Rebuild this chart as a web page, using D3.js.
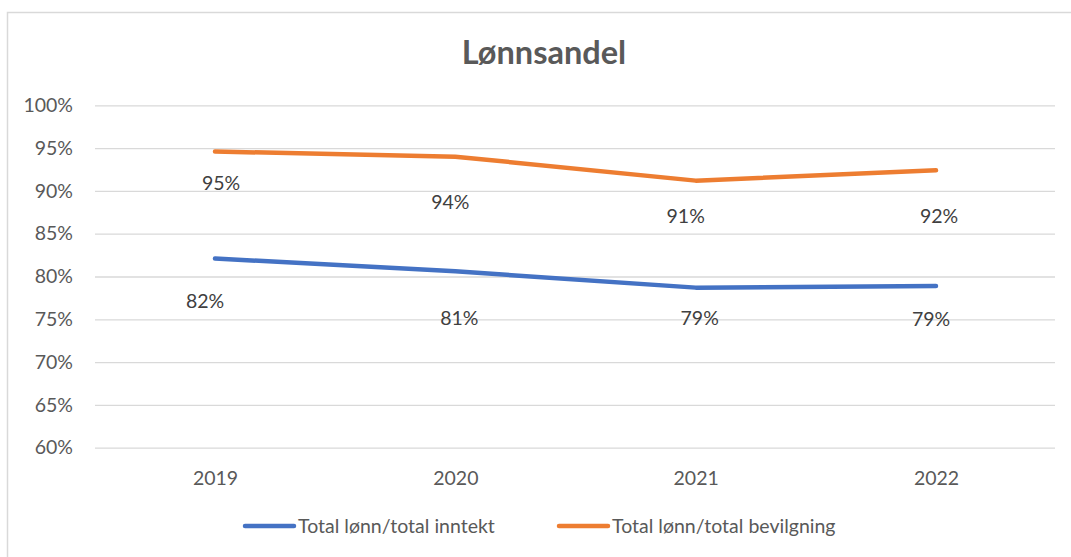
<!DOCTYPE html>
<html>
<head>
<meta charset="utf-8">
<script src="https://cdn.jsdelivr.net/npm/d3@7"></script>
<style>
  html, body { margin: 0; padding: 0; background: #fff; }
  svg { display: block; font-family: Lato, "Open Sans", sans-serif; }
</style>
</head>
<body>
<svg id="chart" width="1071" height="557"></svg>
<script>
// Years on the category axis
const years = ["2019", "2020", "2021", "2022"];

// Wage share series, in percent
const lonnInntekt = [82.1, 80.6, 78.7, 78.9];     // Total lønn/total inntekt
const lonnBevilgning = [94.6, 94.0, 91.2, 92.4];  // Total lønn/total bevilgning

const seriesNames = ["Total lønn/total inntekt", "Total lønn/total bevilgning"];

// Value axis ticks
const yTicks = [60, 65, 70, 75, 80, 85, 90, 95, 100];

// Hand-placed data label nudges [dx, dy] from each point
const nudgeInntekt = [[-10, 43], [4, 47], [4, 31], [-5, 33]];
const nudgeBevilgning = [[6, 32], [-5, 46], [-10, 36], [3, 46]];

const colors = ["#4472C4", "#ED7D31"];
const fontSize = 19.5;

const svg = d3.select("#chart");

// Chart frame
svg.append("rect")
  .attr("x", 7.5).attr("y", 12.5)
  .attr("width", 1100).attr("height", 600)
  .attr("fill", "#fff")
  .attr("stroke", "#d9d9d9").attr("stroke-width", 1.5);

// Title
svg.append("text")
  .attr("x", 544).attr("y", 64)
  .attr("text-anchor", "middle")
  .attr("font-size", 32.5).attr("font-weight", 700)
  .attr("fill", "#595959")
  .text("Lønnsandel");

const x = d3.scalePoint().domain(years).range([215, 936]);
const y = d3.scaleLinear().domain([60, 100]).range([447.7, 105.3]);

// Gridlines + value axis labels
const yAxis = d3.axisLeft(y)
  .tickValues(yTicks)
  .tickSize(-960)
  .tickPadding(22)
  .tickFormat(d => d + "%");

const gy = svg.append("g")
  .attr("transform", "translate(95,0)")
  .call(yAxis);
gy.select(".domain").remove();
gy.selectAll(".tick line").attr("stroke", "#d9d9d9").attr("stroke-width", 1.3);
gy.selectAll(".tick text")
  .attr("fill", "#595959").attr("font-size", fontSize)
  .attr("font-family", "Lato, 'Open Sans', sans-serif");

// Category axis labels
const xAxis = d3.axisBottom(x).tickSize(0).tickPadding(0);
const gx = svg.append("g").attr("transform", "translate(0,471)").call(xAxis);
gx.select(".domain").remove();
gx.selectAll(".tick text")
  .attr("fill", "#595959").attr("font-size", fontSize)
  .attr("font-family", "Lato, 'Open Sans', sans-serif");

// Lines
const line = d3.line().x((d, i) => x(years[i])).y(d => y(d));
const series = [
  { values: lonnInntekt, color: colors[0], nudge: nudgeInntekt },
  { values: lonnBevilgning, color: colors[1], nudge: nudgeBevilgning }
];

series.forEach(s => {
  svg.append("path")
    .datum(s.values)
    .attr("d", line)
    .attr("fill", "none")
    .attr("stroke", s.color)
    .attr("stroke-width", 4.5)
    .attr("stroke-linecap", "round")
    .attr("stroke-linejoin", "round");

  svg.append("g").selectAll("text")
    .data(s.values)
    .join("text")
    .attr("x", (d, i) => x(years[i]) + s.nudge[i][0])
    .attr("y", (d, i) => y(d) + s.nudge[i][1])
    .attr("dy", "0.35em")
    .attr("text-anchor", "middle")
    .attr("font-size", fontSize)
    .attr("fill", "#404040")
    .text(d => Math.round(d) + "%");
});

// Legend
const legendItems = [
  { name: seriesNames[0], color: colors[0], x0: 243 },
  { name: seriesNames[1], color: colors[1], x0: 557 }
];
const lg = svg.append("g");
legendItems.forEach(it => {
  lg.append("line")
    .attr("x1", it.x0 + 2).attr("x2", it.x0 + 51)
    .attr("y1", 526).attr("y2", 526)
    .attr("stroke", it.color).attr("stroke-width", 4.5)
    .attr("stroke-linecap", "round");
  lg.append("text")
    .attr("x", it.x0 + 55).attr("y", 526)
    .attr("dy", "0.35em")
    .attr("font-size", fontSize)
    .attr("fill", "#595959")
    .text(it.name);
});
</script>
</body>
</html>
